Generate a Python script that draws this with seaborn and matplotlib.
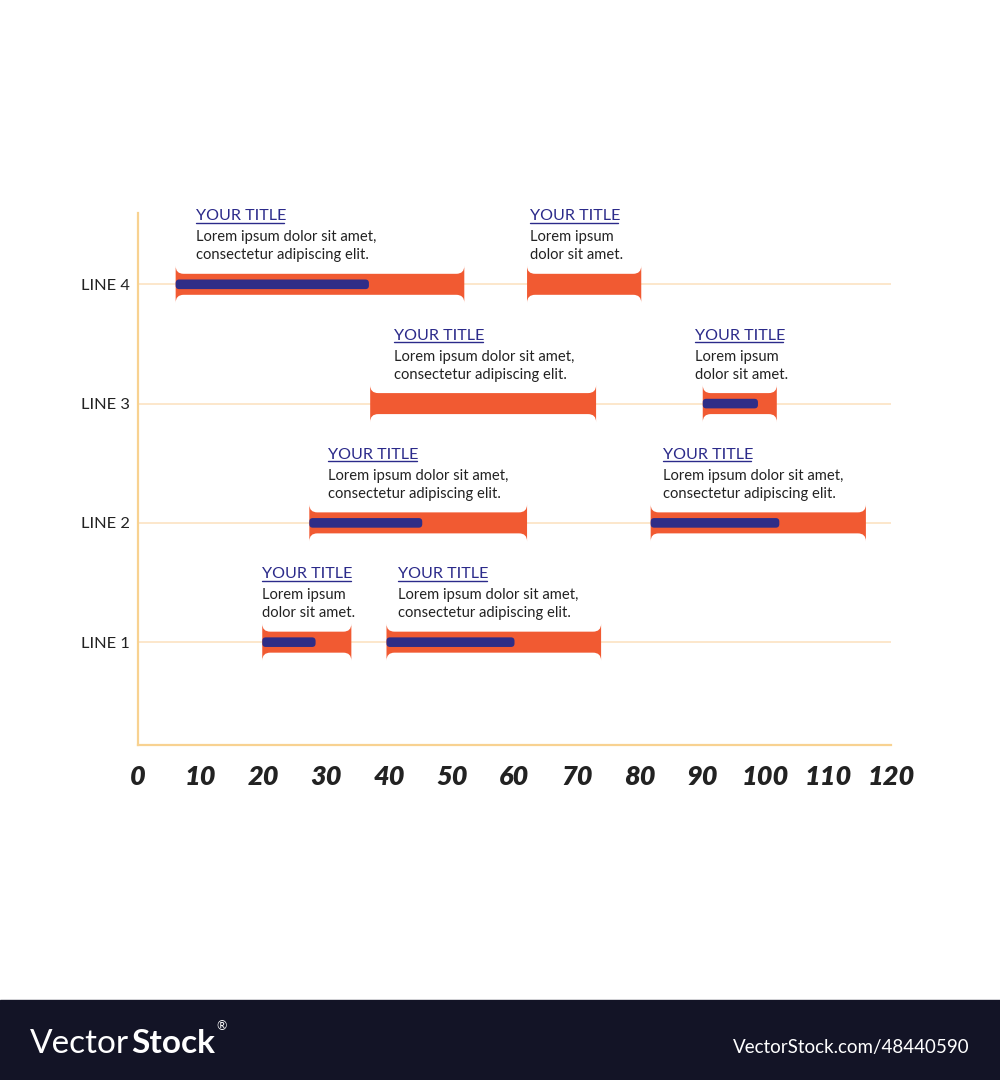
import matplotlib
matplotlib.use("Agg")
import matplotlib.pyplot as plt
from matplotlib.path import Path
from matplotlib.patches import PathPatch, FancyBboxPatch, Rectangle
from matplotlib.lines import Line2D
import seaborn as sns

# ── Data ────────────────────────────────────────────────────
lines     = ["LINE 1", "LINE 2", "LINE 3", "LINE 4"]
seg_line  = ["LINE 4", "LINE 4", "LINE 3", "LINE 3", "LINE 2", "LINE 2", "LINE 1", "LINE 1"]
seg_start = [6, 62, 37, 90, 27.3, 81.7, 19.8, 39.6]
seg_end   = [52, 80.2, 73, 101.8, 62, 116, 34, 73.8]
seg_done  = [36.8, None, None, 98.8, 45.3, 102.2, 28.3, 60]   # blue progress, None = none
LONG  = "Lorem ipsum dolor sit amet,\nconsectetur adipiscing elit."
SHORT = "Lorem ipsum\ndolor sit amet."
seg_title = ["YOUR TITLE"] * 8
seg_body  = [LONG, SHORT, LONG, SHORT, LONG, LONG, SHORT, LONG]
x_ticks   = list(range(0, 121, 10))

# ── Style ───────────────────────────────────────────────────
ORANGE  = "#F15A32"
NAVY    = "#2F2D87"
TITLE_C = "#2B2A8A"
AXIS_C  = "#F8D291"
GRID_C  = "#FCE7CB"
TEXT_C  = "#222222"
BAND_C  = "#131426"

sns.set_theme(style="white")
plt.rcParams["font.family"] = ["Lato", "DejaVu Sans"]

note_dx = [20, 3, 24, -8, 19, 12, 0, 12]   # text offset from bar start, px
TITLE_OFF, BODY_OFF = 64, [43, 25]          # baseline heights above bar centre, px

fig = plt.figure(figsize=(10, 10.8), dpi=100)
fig.patch.set_facecolor("white")
ax = fig.add_axes([0.138, 0.3102, 0.753, 0.4926])
ax.set_xlim(0, 120)
ax.set_ylim(0.138, 4.598)

# pixel -> data units
px_x = 120 / (0.753 * 1000)
px_y = (4.598 - 0.138) / (0.4926 * 1080)

BAR_H   = 10.5 * px_y
FLARE_H = 8 * px_y
FLARE_W = 8 * px_x
BLUE_H  = 4.8 * px_y

ypos = {name: i + 1 for i, name in enumerate(lines)}

# grid lines
for name in lines:
    ax.axhline(ypos[name], color=GRID_C, lw=1.4, zorder=1)


def flared_bar(x0, x1, yc):
    h, f, w = BAR_H, FLARE_H, FLARE_W
    verts = [(x0, yc - h - f), (x0, yc + h + f), (x0, yc + h), (x0 + w, yc + h),
             (x1 - w, yc + h), (x1, yc + h), (x1, yc + h + f),
             (x1, yc - h - f), (x1, yc - h), (x1 - w, yc - h),
             (x0 + w, yc - h), (x0, yc - h), (x0, yc - h - f), (x0, yc - h - f)]
    codes = [Path.MOVETO, Path.LINETO, Path.CURVE3, Path.CURVE3,
             Path.LINETO, Path.CURVE3, Path.CURVE3,
             Path.LINETO, Path.CURVE3, Path.CURVE3,
             Path.LINETO, Path.CURVE3, Path.CURVE3, Path.CLOSEPOLY]
    return PathPatch(Path(verts, codes), facecolor=ORANGE, edgecolor="none", zorder=3)


titles = []
for i in range(len(seg_line)):
    yc = ypos[seg_line[i]]
    ax.add_patch(flared_bar(seg_start[i], seg_end[i], yc))
    if seg_done[i] is not None:
        ax.add_patch(FancyBboxPatch(
            (seg_start[i], yc - BLUE_H), seg_done[i] - seg_start[i], 2 * BLUE_H,
            boxstyle=f"round,pad=0,rounding_size={3.5 * px_x}",
            mutation_aspect=px_y / px_x, facecolor=NAVY, edgecolor="none", zorder=4))
    dx = note_dx[i] * 0.72
    t = ax.annotate(seg_title[i], (seg_start[i], yc), xytext=(dx, TITLE_OFF * 0.72),
                    textcoords="offset points", ha="left", va="baseline",
                    fontsize=11.6, color=TITLE_C, zorder=5)
    titles.append((t, seg_start[i], yc))
    body = seg_body[i].split("\n")
    for line, off in zip(body, BODY_OFF):
        ax.annotate(line, (seg_start[i], yc), xytext=(dx, off * 0.72),
                    textcoords="offset points", ha="left", va="baseline",
                    fontsize=10.6, color=TEXT_C, zorder=5)

# axes
sns.despine(ax=ax, top=True, right=True)
for side in ["left", "bottom"]:
    ax.spines[side].set_color(AXIS_C)
    ax.spines[side].set_linewidth(1.6)
ax.set_yticks([ypos[n] for n in lines])
ax.set_yticklabels(lines, fontsize=11.8, color=TEXT_C)
ax.set_xticks(x_ticks)
ax.set_xticklabels([str(v) for v in x_ticks], fontweight="heavy",
                   fontstyle="italic", fontsize=19.5, color=TEXT_C)
ax.tick_params(axis="x", direction="inout", length=11.5, width=1.5, color=AXIS_C, pad=9)
ax.tick_params(axis="y", length=0, pad=6)
ax.xaxis.get_major_ticks()[0].tick1line.set_visible(False)
ax.grid(False)
ax.set_facecolor("none")

# underline titles, just under the baseline
fig.canvas.draw()
renderer = fig.canvas.get_renderer()
inv = fig.transFigure.inverted()
for t, x, yc in titles:
    bb = t.get_window_extent(renderer)
    base = ax.transData.transform((x, yc))[1] + TITLE_OFF - 2.5
    (fx0, fy), (fx1, _) = inv.transform([(bb.x0, base), (bb.x1 - 2, base)])
    fig.add_artist(Line2D([fx0, fx1], [fy, fy], color=TITLE_C, lw=1.0))

# watermark band
fig.add_artist(Rectangle((0, 0), 1, 80 / 1080, transform=fig.transFigure,
                         color=BAND_C, zorder=0))
v = fig.text(0.030, 0.025, "Vector", color="white", fontsize=24,
             fontweight="normal", va="baseline")
fig.canvas.draw()
vx1 = inv.transform(v.get_window_extent(renderer))[1][0]
s = fig.text(vx1 + 0.002, 0.025, "Stock", color="white", fontsize=24,
             fontweight="bold", va="baseline")
fig.canvas.draw()
sx1 = inv.transform(s.get_window_extent(renderer))[1][0]
fig.text(sx1 + 0.001, 0.046, "®", color="white", fontsize=9, va="baseline")
fig.text(0.970, 0.025, "VectorStock.com/48440590", color="white", fontsize=13.5,
         ha="right", va="baseline")

fig.savefig("out.png", dpi=100)
